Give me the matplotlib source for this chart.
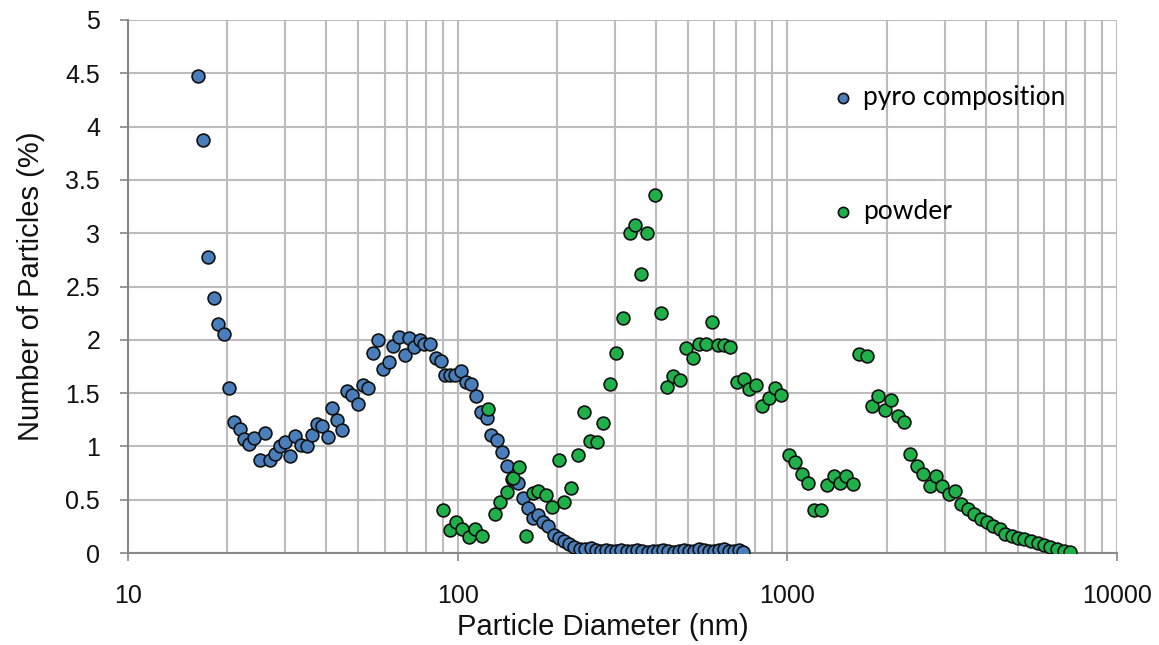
import matplotlib
matplotlib.use("Agg")
import matplotlib.pyplot as plt
from matplotlib.ticker import LogLocator, NullFormatter, FixedLocator

# pyro composition (blue)
pyro_d = [16.36, 16.9, 17.53, 18.2, 18.78, 19.6, 20.27, 20.96, 21.8, 22.5,
          23.3, 24.14, 25.07, 25.96, 26.99, 27.87, 28.85, 29.98, 31.07, 32.2,
          33.6, 34.8, 36.2, 37.5, 38.8, 40.3, 41.7, 43.1, 44.5, 46.1,
          47.9, 49.9, 51.5, 53.4, 55.3, 57.5, 59.5, 62.1, 63.6, 66.3,
          69.0, 71.0, 73.6, 76.7, 79.3, 82.4, 85.7, 88.9, 91.3, 94.7,
          98.2, 102.3, 106.1, 110.0, 114.0, 118.1, 122.9, 126.6, 131.4, 136.0,
          141.0, 146.2, 152.3, 157.9, 163.8, 168.8, 175.3, 181.8, 188.6, 195.6,
          202.9, 210.0, 217.6, 225.5, 235.0, 244.1, 253.0, 262.0, 272.0, 282.0,
          292.0, 303.0, 314.0, 326.0, 338.0, 350.0, 363.0, 377.0, 391.0, 405.0,
          420.0, 436.0, 452.0, 468.0, 486.0, 503.0, 521.0, 540.0, 559.0, 579.0,
          599.0, 620.0, 642.0, 665.0, 689.0, 713.0, 736.0]
pyro_pct = [4.47, 3.87, 2.78, 2.39, 2.15, 2.05, 1.55, 1.23, 1.16, 1.07,
            1.02, 1.08, 0.87, 1.13, 0.87, 0.93, 1.00, 1.04, 0.91, 1.10,
            1.01, 1.00, 1.11, 1.21, 1.19, 1.09, 1.36, 1.25, 1.15, 1.52,
            1.48, 1.40, 1.58, 1.55, 1.88, 2.00, 1.73, 1.79, 1.94, 2.03,
            1.86, 2.02, 1.93, 2.00, 1.96, 1.96, 1.83, 1.80, 1.67, 1.67,
            1.67, 1.71, 1.60, 1.59, 1.47, 1.32, 1.27, 1.11, 1.06, 0.95,
            0.82, 0.69, 0.66, 0.52, 0.42, 0.33, 0.36, 0.29, 0.25, 0.17,
            0.14, 0.11, 0.08, 0.06, 0.04, 0.035, 0.044, 0.03, 0.02, 0.03,
            0.02, 0.02, 0.03, 0.02, 0.02, 0.03, 0.02, 0.01, 0.02, 0.02,
            0.03, 0.02, 0.01, 0.02, 0.03, 0.02, 0.02, 0.04, 0.03, 0.02,
            0.02, 0.03, 0.04, 0.02, 0.02, 0.03, 0.01]

# powder (green)
powder_d = [90.3, 94.8, 98.7, 103.4, 108.3, 112.6, 118.5, 123.5, 129.4, 134.5,
            141.0, 147.5, 154.0, 161.5, 169.1, 175.3, 184.7, 193.0, 203.5, 210.7,
            220.5, 231.2, 241.1, 252.5, 264.4, 275.3, 290.1, 302.9, 317.7, 332.9,
            345.7, 359.1, 374.8, 397.1, 414.0, 430.5, 450.4, 471.0, 493.6, 515.7,
            539.9, 565.6, 589.3, 615.5, 643.9, 671.6, 704.7, 736.9, 765.7, 804.9,
            839.3, 878.5, 915.3, 957.3, 1009, 1057, 1108, 1156, 1206, 1269,
            1320, 1382, 1442, 1511, 1584, 1647, 1739, 1800, 1887, 1975,
            2061, 2164, 2262, 2353, 2479, 2585, 2707, 2824, 2953, 3093,
            3225, 3363, 3525, 3684, 3860, 4026, 4199, 4419, 4576, 4797,
            5003, 5227, 5489, 5741, 5988, 6271, 6570, 6887, 7182]
powder_pct = [0.40, 0.22, 0.29, 0.23, 0.15, 0.23, 0.16, 1.35, 0.37, 0.48,
              0.57, 0.70, 0.81, 0.16, 0.56, 0.58, 0.54, 0.43, 0.87, 0.48,
              0.61, 0.92, 1.32, 1.05, 1.04, 1.22, 1.59, 1.88, 2.20, 3.00,
              3.08, 2.62, 3.00, 3.36, 2.25, 1.56, 1.66, 1.62, 1.92, 1.83,
              1.96, 1.96, 2.17, 1.95, 1.95, 1.93, 1.60, 1.63, 1.54, 1.58,
              1.38, 1.45, 1.55, 1.48, 0.92, 0.85, 0.74, 0.66, 0.40, 0.40,
              0.64, 0.72, 0.66, 0.72, 0.65, 1.87, 1.85, 1.38, 1.47, 1.34,
              1.44, 1.29, 1.23, 0.93, 0.82, 0.74, 0.63, 0.72, 0.63, 0.55,
              0.58, 0.46, 0.41, 0.37, 0.32, 0.29, 0.25, 0.23, 0.18, 0.16,
              0.14, 0.13, 0.11, 0.09, 0.075, 0.053, 0.035, 0.022, 0.01]

y_ticks = [0, 0.5, 1, 1.5, 2, 2.5, 3, 3.5, 4, 4.5, 5]
y_tick_labels = ["0", "0.5", "1", "1.5", "2", "2.5", "3", "3.5", "4", "4.5", "5"]
x_ticks = [10, 100, 1000, 10000]
x_tick_labels = ["10", "100", "1000", "10000"]

blue = "#4a7ebb"
green = "#1fb04a"
grid_c = "#bcbcbc"
font = "Liberation Sans"

fig = plt.figure(figsize=(11.59, 6.45), dpi=100)
ax = fig.add_axes([0.1104, 0.1426, 0.8534, 0.8264])

ax.scatter(pyro_d, pyro_pct, s=85, color=blue, edgecolors="#111111",
           linewidths=1.2, zorder=3, label="pyro composition")
ax.scatter(powder_d, powder_pct, s=85, color=green, edgecolors="#111111",
           linewidths=1.2, zorder=4, label="powder")

ax.set_xscale("log")
ax.set_xlim(10, 10000)
ax.set_ylim(0, 5)

ax.xaxis.set_major_locator(FixedLocator(x_ticks))
ax.set_xticklabels(x_tick_labels, family=font, fontsize=18, color="#111111")
ax.xaxis.set_minor_locator(LogLocator(base=10, subs=range(2, 10)))
ax.xaxis.set_minor_formatter(NullFormatter())
ax.set_yticks(y_ticks)
ax.set_yticklabels(y_tick_labels, family=font, fontsize=18, color="#111111")

ax.grid(True, which="both", axis="x", color=grid_c, linewidth=1.5)
ax.grid(True, which="major", axis="y", color=grid_c, linewidth=1.5)
ax.set_axisbelow(True)

ax.tick_params(axis="x", which="major", direction="out", length=6, width=1.2,
               color="#888888", pad=16)
ax.tick_params(axis="x", which="minor", length=0)
ax.tick_params(axis="y", direction="out", length=6, width=1.2,
               color="#888888", pad=14)

for side in ["top", "right"]:
    ax.spines[side].set_visible(False)
for side in ["left", "bottom"]:
    ax.spines[side].set_color("#888888")
    ax.spines[side].set_linewidth(1.5)

ax.set_xlabel("Particle Diameter (nm)", family=font, fontsize=21, labelpad=4,
              color="#111111")
ax.xaxis.label.set_x(0.48)
ax.set_ylabel("Number of Particles (%)", family=font, fontsize=21, labelpad=15,
              color="#111111")

leg = ax.legend(loc="upper left", bbox_to_anchor=(0.7098, 0.878), frameon=False,
                markerscale=0.8, handlelength=1.0, handletextpad=0.25,
                borderpad=0, borderaxespad=0, labelspacing=3.38,
                prop={"family": "Lato", "size": 19})

fig.savefig("out.png", dpi=100)
